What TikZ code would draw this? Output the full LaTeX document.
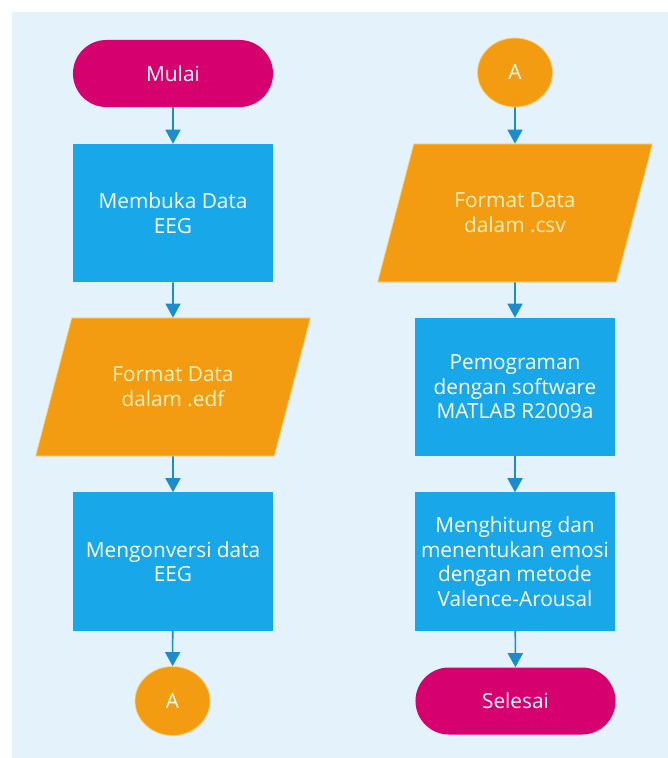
\documentclass[tikz,border=0pt]{standalone}
\usepackage{fontspec}
\setmainfont{Open Sans}
\usetikzlibrary{shapes.geometric,arrows.meta}

\definecolor{panelbg}{HTML}{E3F2FB}
\definecolor{termfill}{HTML}{D6006E}
\definecolor{procfill}{HTML}{18A7E8}
\definecolor{iofill}{HTML}{F39C12}
\definecolor{ioedge}{HTML}{FFD27A}
\definecolor{iotext}{HTML}{FFF0BE}
\definecolor{flowcol}{HTML}{1C8CCD}

\tikzset{
  base/.style={text=white, align=center, inner sep=0pt,
    font=\fontsize{14.8}{17.5}\selectfont},
  terminal/.style={base, fill=termfill, rounded corners=0.8375cm,
    minimum width=5cm, minimum height=1.675cm},
  process/.style={base, fill=procfill, minimum width=5cm, minimum height=3.45cm},
  iodata/.style={base, trapezium, trapezium left angle=61.5,
    trapezium right angle=118.5, trapezium stretches=true,
    fill=iofill, draw=ioedge, line width=0.5pt, text=iotext,
    minimum width=6.875cm, minimum height=3.45cm},
  connector/.style={base, ellipse, fill=iofill, draw=ioedge, line width=0.5pt,
    minimum width=1.875cm, minimum height=1.725cm},
  flow/.style={draw=flowcol, line width=1.1pt,
    -{Triangle[width=0.375cm,length=0.35cm]}}
}

\begin{document}
\begin{tikzpicture}[x=0.025cm,y=-0.025cm]
	\useasboundingbox (0,0) rectangle (668,758);
	\fill[white] (0,0) rectangle (668,758);
	\fill[panelbg] (12,12) rectangle (668,758);
	% Left column
	\node[terminal] (mulai) at (173,73.5) {Mulai};
	\node[process] (buka) at (173,213) {Membuka Data\\EEG};
	\node[iodata] (edf) at (173,387) {Format Data\\dalam .edf};
	\node[process] (konversi) at (173,561.5) {Mengonversi data\\EEG};
	\node[connector] (outA) at (172.5,701) {A};
	% Right column
	\node[connector] (inA) at (515,72.5) {A};
	\node[iodata] (csv) at (515,213) {Format Data\\dalam .csv};
	\node[process] (matlab) at (515,387) {Pemograman\\dengan software\\MATLAB R2009a};
	\node[process] (hitung) at (515,561.5) {Menghitung dan\\menentukan emosi\\dengan metode\\Valence-Arousal};
	\node[terminal] (selesai) at (515.5,701) {Selesai};
	% Arrows
	\foreach \a/\b in {mulai/buka, buka/edf, edf/konversi, konversi/outA,
	                   inA/csv, csv/matlab, matlab/hitung, hitung/selesai}{
		\draw[flow] (\a) -- (\b);
	}
\end{tikzpicture}
\end{document}
